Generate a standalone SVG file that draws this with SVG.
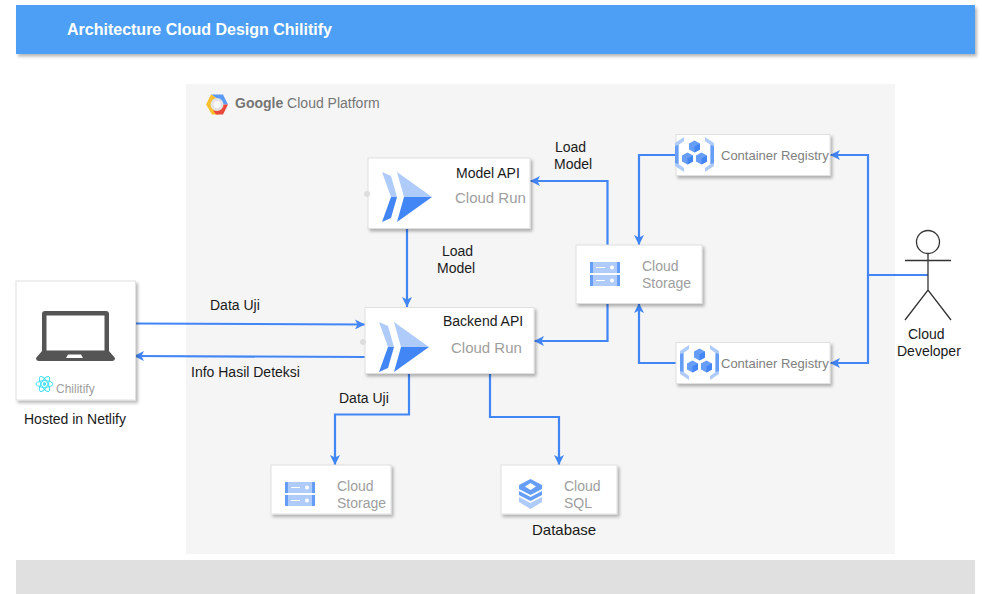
<svg xmlns="http://www.w3.org/2000/svg" width="982" height="594" viewBox="0 0 982 594">
<style>
text{font-family:"Liberation Sans",Arial,sans-serif;font-size:14px;fill:#1a1a1a}
.g{fill:#9e9e9e}
.gr{fill:#9e9e9e;font-size:15px}
.r{fill:#808080;font-size:13px}
.card{fill:#fff;stroke:#e0e0e0;stroke-width:1;filter:url(#sh)}
.c{fill:none;stroke:#4285f4;stroke-width:2.2}
.l{fill:#aecbfa}.d{fill:#669df6}.b{fill:#4285f4}
.a{fill:none;stroke:#333;stroke-width:1.3}
</style>
<defs>
<filter id="sh" x="-10%" y="-10%" width="125%" height="125%"><feDropShadow dx="2" dy="2.5" stdDeviation="1.5" flood-color="#000" flood-opacity=".28"/></filter>
<marker id="ah" markerUnits="userSpaceOnUse" markerWidth="11" markerHeight="10" refX="10" refY="5" orient="auto"><path d="M0 0L10 5L0 10L2.5 5Z" fill="#4285f4"/></marker>
<g id="run"><path class="l" d="M0 0L9 4L15 25H9Z"/><path class="b" d="M9 25H15L9 46L0 50Z"/><path class="l" d="M15 0L50 25H22Z"/><path class="b" d="M22 25H50L15 50Z"/></g>
<g id="st"><rect class="d" width="30" height="11"/><rect class="l" x="3" width="24" height="11"/><rect class="d" y="13" width="30" height="11"/><rect class="l" x="3" y="13" width="24" height="11"/><path d="M6 5.500H15M6 18.500H15" stroke="#fff" stroke-width="1.200"/><circle cx="22" cy="5.500" r="2" fill="#fff"/><circle cx="22" cy="18.500" r="2" fill="#fff"/></g>
<g id="cube"><path class="d" d="M0-6L5.500-3V3L0 6L-5.500 3V-3Z"/><path class="b" d="M0 0L5.500-3V3L0 6Z"/></g>
<g id="cr"><path class="l" d="M9 0V4L3.500 8V27L9 31V35L0 29V6Z"/><path class="d" d="M0 9L3.500 8V27L0 26Z"/><path class="l" d="M30 0L39 6V29L30 35V31L35.500 27V8L30 4Z"/><path class="d" d="M35.500 8L39 9V26L35.500 27Z"/><use href="#cube" x="19.500" y="9.500"/><use href="#cube" x="12.500" y="21.500"/><use href="#cube" x="26.500" y="21.500"/></g>
</defs>
<rect x="186" y="84" width="709" height="470" fill="#f5f5f5"/>
<g id="header"><rect x="16" y="5" width="959" height="49" fill="#4e9ff5" filter="url(#sh)"/><text x="67" y="35" style="font-size:16px;font-weight:700;fill:#fff">Architecture Cloud Design Chilitify</text></g>
<g id="footer"><rect x="16" y="560" width="959" height="34" fill="#e0e0e0"/></g>
<g id="gcp-logo"><path d="M211 94.500H223L228 104.500H221L217 98.500Z" fill="#5c9bf5"/><path d="M211 94.500L206 104.500L212 114.500H219L217 110.500L211 104.500L217 98.500Z" fill="#fbc02d"/><path d="M228 104.500L223 114.500H216L213 110.500H217L221 104.500Z" fill="#e8493a"/><circle cx="217" cy="104.500" r="6.500" fill="#e3e3e3"/><circle cx="217" cy="104.500" r="3.500" fill="#fafafa"/>
<text x="235" y="108" style="font-size:14px;fill:#757575"><tspan font-weight="700">Google</tspan> Cloud Platform</text></g>
<g id="connectors">
<path class="c" marker-end="url(#ah)" d="M407 229V307"/>
<path class="c" marker-end="url(#ah)" d="M136 323.500L365 324.500"/>
<path class="c" marker-end="url(#ah)" d="M365 357L134 356"/>
<path class="c" marker-end="url(#ah)" d="M409 373V414.500H335V465"/>
<path class="c" marker-end="url(#ah)" d="M490 373V417H559V465"/>
<path class="c" marker-end="url(#ah)" d="M607.500 245V181H530"/>
<path class="c" marker-end="url(#ah)" d="M607.500 303V341H534"/>
<path class="c" marker-end="url(#ah)" d="M676 155H639V245"/>
<path class="c" marker-end="url(#ah)" d="M676 363H639V303"/>
<path class="c" marker-end="url(#ah)" d="M928 275H868V155H830"/>
<path class="c" marker-end="url(#ah)" d="M868 275V363H830"/>
</g>
<g id="model-api"><rect class="card" x="368" y="158" width="162" height="70.500"/><circle cx="367" cy="194" r="3" fill="#ddd"/><use href="#run" x="382" y="172"/><text x="456" y="178">Model API</text><text class="gr" x="455" y="203">Cloud Run</text></g>
<g id="backend-api"><rect class="card" x="365" y="307.500" width="169" height="66"/><circle cx="363" cy="342" r="3" fill="#ddd"/><use href="#run" x="379" y="322"/><text x="443" y="326">Backend API</text><text class="gr" x="451" y="353">Cloud Run</text></g>
<g id="storage-main"><rect class="card" x="576" y="245" width="126" height="58.500"/><use href="#st" x="590" y="262"/><text class="g" x="642" y="271">Cloud</text><text class="g" x="642" y="288">Storage</text></g>
<g id="registry-1"><rect class="card" x="676" y="134.500" width="154" height="41"/><use href="#cr" x="675" y="137"/><text class="r" x="721" y="160">Container Registry</text></g>
<g id="registry-2"><rect class="card" x="676" y="342.500" width="154" height="41"/><use href="#cr" x="680" y="345"/><text class="r" x="721" y="368">Container Registry</text></g>
<g id="storage-data"><rect class="card" x="271" y="465" width="120" height="49"/><use href="#st" x="285" y="482"/><text class="g" x="337" y="491">Cloud</text><text class="g" x="337" y="508">Storage</text></g>
<g id="cloud-sql"><rect class="card" x="501" y="465" width="116" height="49"/><path class="d" d="M530.500 479L542 485V489L530.500 495L519 489V485ZM530.500 483L525 486.500L530.500 490L536 486.500Z" fill-rule="evenodd"/><path class="d" d="M519 491L530.500 497L542 491V495L530.500 501L519 495Z"/><path class="l" d="M519 497L530.500 503L542 497V502L530.500 509L519 502Z"/><text class="g" x="564" y="491">Cloud</text><text class="g" x="564" y="508">SQL</text></g>
<text x="532" y="535" style="font-size:15px">Database</text>
<g id="client"><rect class="card" x="16" y="281" width="119.500" height="119"/>
<path fill-rule="evenodd" fill="#555" d="M45 311H106Q109 311 109 314V351L115 358Q115 361 112 361H39Q36 361 36 358L42 351V314Q42 311 45 311ZM46.500 315.500V350.500H104.500V315.500ZM68 354.500L66 358H83L81 354.500Z"/>
<g fill="none" stroke="#3ee0f5" stroke-width="1"><ellipse cx="44.500" cy="384" rx="8.500" ry="3.300"/><ellipse cx="44.500" cy="384" rx="8.500" ry="3.300" transform="rotate(60 44.500 384)"/><ellipse cx="44.500" cy="384" rx="8.500" ry="3.300" transform="rotate(120 44.500 384)"/></g><circle cx="44.500" cy="384" r="1.700" fill="#3ee0f5"/>
<text x="56" y="393" style="font-size:12px;fill:#9e9e9e">Chilitify</text></g>
<text x="24" y="424">Hosted in Netlify</text>
<g id="cloud-developer"><circle class="a" cx="928" cy="242" r="11.500"/><path class="a" d="M928 253.500V290M905 260.500H951M905 320L928 290L951 320"/><text x="908" y="339">Cloud</text><text x="897" y="356">Developer</text></g>
<g id="labels">
<text x="555" y="152">Load</text><text x="554" y="169">Model</text>
<text x="442" y="256">Load</text><text x="437" y="273">Model</text>
<text x="210" y="310">Data Uji</text>
<text x="191" y="377">Info Hasil Deteksi</text>
<text x="339" y="403">Data Uji</text>
</g>
</svg>
